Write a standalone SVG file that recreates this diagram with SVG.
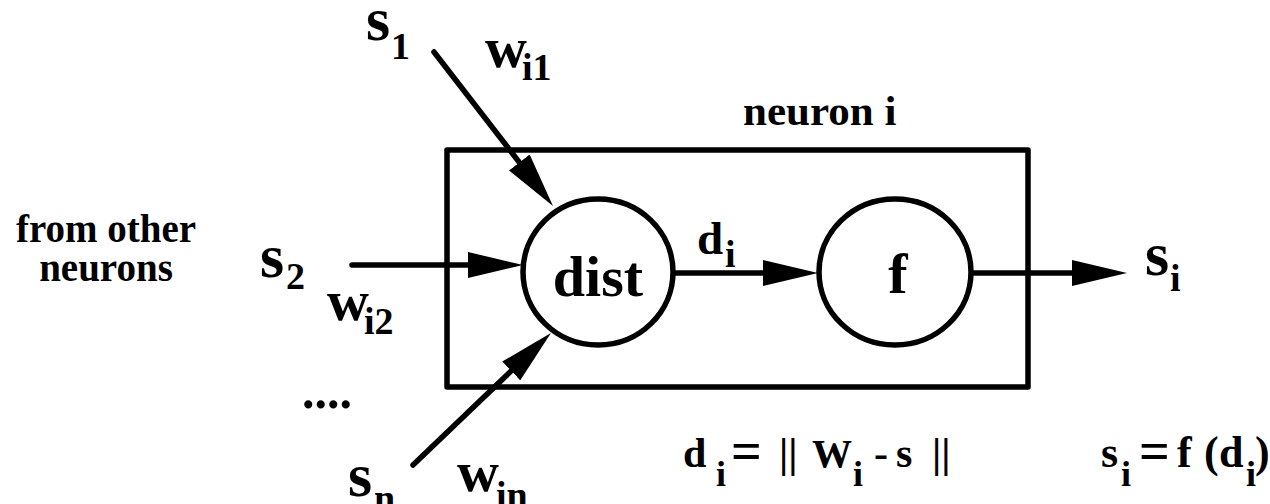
<svg xmlns="http://www.w3.org/2000/svg" width="1270" height="504" viewBox="0 0 1270 504">
<style>
.t{font-family:"Liberation Serif","Times New Roman",serif;font-weight:bold;fill:#000}
.ln{stroke:#000;stroke-width:5.5;fill:none;stroke-linecap:round}
.sh{stroke:#000;stroke-width:5.5;fill:#fff}
</style>
<defs>
<marker id="ah" markerUnits="userSpaceOnUse" viewBox="0 0 55 26" markerWidth="55" markerHeight="26" refX="39" refY="13" orient="auto">
<path d="M0,0 L55,13 L0,26 z" fill="#000"/>
</marker>
</defs>
<rect width="1270" height="504" fill="#fff"/>
<g id="neuron-box">
<rect x="447" y="150" width="581" height="237" class="ln" stroke-linejoin="round"/>
<text class="t" x="743" y="125" font-size="43">neuron i</text>
</g>
<g id="connectors">
<path class="ln" d="M434,52 L543.2,193.3" marker-end="url(#ah)"/>
<path class="ln" d="M352,265 L507,265" marker-end="url(#ah)"/>
<path class="ln" d="M413,465 L539.4,344" marker-end="url(#ah)"/>
<path class="ln" d="M673,273 L802,273" marker-end="url(#ah)"/>
<path class="ln" d="M972,273 L1111,273" marker-end="url(#ah)"/>
</g>
<g id="dist">
<ellipse cx="598" cy="272" rx="75" ry="73" class="sh"/>
<text class="t" x="598" y="296" font-size="58" text-anchor="middle">dist</text>
</g>
<g id="f">
<ellipse cx="895" cy="272" rx="76" ry="73" class="sh"/>
<text class="t" x="898" y="293" font-size="58" text-anchor="middle">f</text>
</g>
<g id="labels">
<text class="t" x="106" y="242" font-size="39" text-anchor="middle">from other</text>
<text class="t" x="106" y="281" font-size="39" text-anchor="middle">neurons</text>
<text class="t" x="366" y="40" font-size="62">s</text>
<text class="t" x="391" y="59" font-size="38">1</text>
<text class="t" x="485" y="67" font-size="58">w</text>
<text class="t" x="522" y="80" font-size="38">i1</text>
<text class="t" x="260" y="277" font-size="62">s</text>
<text class="t" x="286" y="289" font-size="38">2</text>
<text class="t" x="327" y="320" font-size="58">w</text>
<text class="t" x="364" y="334" font-size="38">i2</text>
<text class="t" x="302" y="408" font-size="50">....</text>
<text class="t" x="348" y="496" font-size="62">s</text>
<text class="t" x="374" y="511" font-size="38">n</text>
<text class="t" x="457" y="491" font-size="58">w</text>
<text class="t" x="496" y="508" font-size="38">in</text>
<text class="t" x="697" y="254" font-size="47">d</text>
<text class="t" x="725" y="267" font-size="38">i</text>
<text class="t" x="1145" y="275" font-size="62">s</text>
<text class="t" x="1170" y="291" font-size="38">i</text>
</g>
<g id="formulas">
<text class="t" y="467" font-size="42"><tspan x="683">d</tspan><tspan x="716" y="486" font-size="36">i</tspan><tspan x="731" y="469" font-size="54">=</tspan><tspan x="779" y="467">||</tspan><tspan x="812" font-size="40">W</tspan><tspan x="853" y="486" font-size="36">i</tspan><tspan x="874" y="467">-</tspan><tspan x="896">s</tspan><tspan x="932">||</tspan></text>
<text class="t" y="467" font-size="44"><tspan x="1101">s</tspan><tspan x="1121" y="486" font-size="36">i</tspan><tspan x="1139" y="469" font-size="54">=</tspan><tspan x="1177" y="467">f</tspan><tspan x="1204">(</tspan><tspan x="1219">d</tspan><tspan x="1246" y="486" font-size="36">i</tspan><tspan x="1255" y="467">)</tspan></text>
</g>
</svg>
